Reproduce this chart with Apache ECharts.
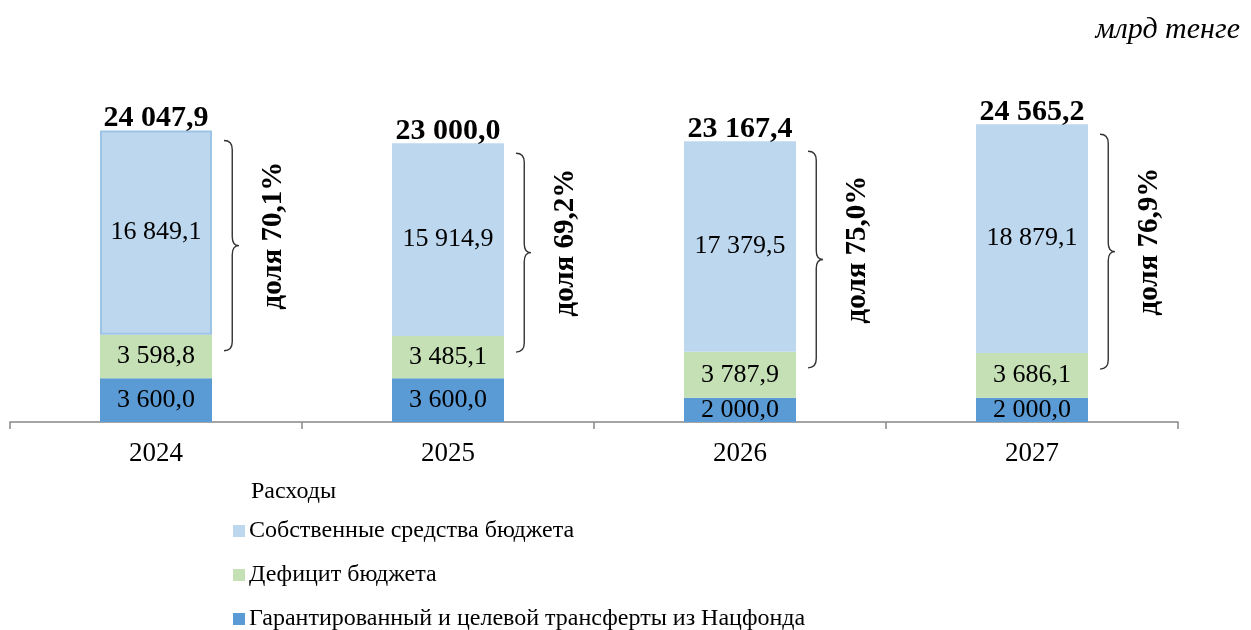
<!DOCTYPE html>
<html>
<head>
<meta charset="utf-8">
<script src="https://cdn.jsdelivr.net/npm/echarts@6/dist/echarts.min.js"></script>
<style>
  html, body { margin: 0; padding: 0; background: #fff; }
  #chart { width: 1251px; height: 630px; }
</style>
</head>
<body>
<div id="chart"></div>
<script>
// годы и значения, млрд тенге
const years = ["2024", "2025", "2026", "2027"];
const ownFunds = [16849.1, 15914.9, 17379.5, 18879.1];
const deficit = [3598.8, 3485.1, 3787.9, 3686.1];
const transfers = [3600.0, 3600.0, 2000.0, 2000.0];
const totals = [24047.9, 23000.0, 23167.4, 24565.2];
const shares = [70.1, 69.2, 75.0, 76.9];

const FONT = "Liberation Serif";

// 24047.9 -> "24 047,9"
const fmt = (v) => {
  const parts = v.toFixed(1).split(".");
  return parts[0].replace(/\B(?=(\d{3})+(?!\d))/g, " ") + "," + parts[1];
};

const chart = echarts.init(document.getElementById("chart"));

const insideLabel = {
  show: true,
  position: "inside",
  color: "#000",
  fontFamily: FONT,
  fontSize: 26,
  formatter: (p) => fmt(p.value),
};

// фигурная скобка и подпись доли рядом со столбцом
const renderBrace = (params, api) => {
  const top = api.coord([api.value(0), api.value(2)]);
  const bot = api.coord([api.value(0), api.value(1)]);
  const x0 = top[0] + 68;
  const w = 15;
  const y0 = top[1] + 10;
  const y1 = bot[1] + 16;
  const ym = (y0 + y1) / 2;
  const r = 9;
  const xm = x0 + w * 0.55;
  const path =
    "M" + x0 + " " + y0 +
    " Q" + xm + " " + y0 + " " + xm + " " + (y0 + r) +
    " L" + xm + " " + (ym - r) +
    " Q" + xm + " " + ym + " " + (x0 + w) + " " + ym +
    " Q" + xm + " " + ym + " " + xm + " " + (ym + r) +
    " L" + xm + " " + (y1 - r) +
    " Q" + xm + " " + y1 + " " + x0 + " " + y1;
  return {
    type: "group",
    children: [
      {
        type: "path",
        shape: { pathData: path },
        style: { fill: "none", stroke: "#333", lineWidth: 1.4 },
      },
      {
        type: "text",
        x: top[0] + 118,
        y: ym - 10,
        rotation: Math.PI / 2,
        style: {
          text: "доля " + api.value(3).toFixed(1).replace(".", ",") + "%",
          fontFamily: FONT,
          fontSize: 29,
          fontWeight: "bold",
          fill: "#000",
          align: "center",
          verticalAlign: "middle",
        },
      },
    ],
  };
};

const option = {
  backgroundColor: "#fff",
  animation: false,
  title: [
    {
      text: "млрд тенге",
      right: 6,
      top: 10,
      textStyle: { fontFamily: FONT, fontSize: 30, fontStyle: "italic", fontWeight: "normal", color: "#000" },
    },
    {
      text: "Расходы",
      left: 246,
      top: 475,
      textStyle: { fontFamily: FONT, fontSize: 24, fontWeight: "normal", color: "#000" },
    },
  ],
  legend: {
    orient: "vertical",
    left: 233,
    top: 519,
    height: 120,
    padding: 0,
    itemWidth: 12,
    itemHeight: 12,
    itemGap: 20,
    icon: "rect",
    data: ["Собственные средства бюджета", "Дефицит бюджета", "Гарантированный и целевой трансферты из Нацфонда"],
    textStyle: { fontFamily: FONT, fontSize: 24, color: "#000", padding: [0, 0, 0, -1] },
  },
  grid: { left: 10, right: 73, top: 22, bottom: 208 },
  xAxis: {
    type: "category",
    data: years,
    axisLine: { lineStyle: { color: "#888", width: 1.5 } },
    axisTick: { show: true, length: 7, lineStyle: { color: "#888", width: 1.5 } },
    axisLabel: { color: "#000", fontFamily: FONT, fontSize: 27, margin: 18 },
  },
  yAxis: {
    type: "value",
    min: 0,
    max: 33000,
    show: false,
    splitLine: { show: false },
  },
  series: [
    {
      name: "Гарантированный и целевой трансферты из Нацфонда",
      type: "bar",
      stack: "total",
      barWidth: 112,
      data: transfers,
      itemStyle: { color: "#5B9BD5" },
      label: insideLabel,
    },
    {
      name: "Дефицит бюджета",
      type: "bar",
      stack: "total",
      data: deficit,
      itemStyle: { color: "#C5E0B4" },
      label: insideLabel,
    },
    {
      name: "Собственные средства бюджета",
      type: "bar",
      stack: "total",
      data: ownFunds.map((v, i) =>
        i === 0
          ? { value: v, itemStyle: { borderColor: "#9DC3E6", borderWidth: 2 } }
          : v
      ),
      itemStyle: { color: "#BDD7EE" },
      label: insideLabel,
    },
    {
      name: "Итого",
      type: "scatter",
      symbolSize: 0,
      data: totals.map((v, i) => [i, v]),
      itemStyle: { opacity: 1 },
      label: {
        show: true,
        position: "top",
        distance: -3,
        color: "#000",
        fontFamily: FONT,
        fontSize: 30,
        fontWeight: "bold",
        formatter: (p) => fmt(p.value[1]),
      },
      emphasis: { disabled: true },
      silent: true,
      z: 6,
    },
    {
      name: "Доля",
      type: "custom",
      renderItem: renderBrace,
      data: years.map((y, i) => [i, transfers[i] + deficit[i], totals[i], shares[i]]),
      silent: true,
      z: 5,
    },
  ],
};

chart.setOption(option);
</script>
</body>
</html>
